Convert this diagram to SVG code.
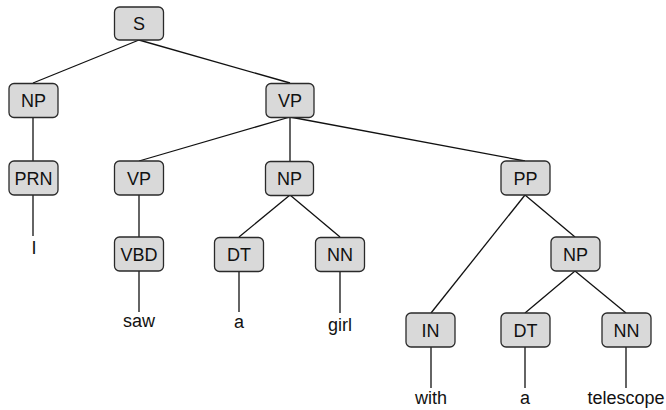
<svg xmlns="http://www.w3.org/2000/svg" width="666" height="410" viewBox="0 0 666 410">
<style>
.n rect{fill:#d9d9d9;stroke:#2a2a2a;stroke-width:1.3}
.n text{font-family:"Liberation Sans",Arial,sans-serif;font-size:18px;fill:#111;text-anchor:middle}
.w{font-family:"Liberation Sans",Arial,sans-serif;font-size:18px;fill:#111;text-anchor:middle}
#edges line{stroke:#111;stroke-width:1.3}
</style>
<rect width="666" height="410" fill="#fff"/>
<g id="edges">
<line x1="139" y1="40" x2="33" y2="83"/>
<line x1="139" y1="40" x2="290" y2="83"/>
<line x1="33" y1="117" x2="33" y2="161"/>
<line x1="290" y1="117" x2="139" y2="161"/>
<line x1="290" y1="117" x2="290" y2="161"/>
<line x1="290" y1="117" x2="525" y2="161"/>
<line x1="139" y1="195" x2="139" y2="237"/>
<line x1="290" y1="195" x2="239" y2="237"/>
<line x1="290" y1="195" x2="340" y2="237"/>
<line x1="525" y1="195" x2="431" y2="313"/>
<line x1="525" y1="195" x2="575" y2="237"/>
<line x1="575" y1="271" x2="525" y2="313"/>
<line x1="575" y1="271" x2="626" y2="313"/>
<line x1="33" y1="195" x2="33" y2="236"/>
<line x1="139" y1="271" x2="139" y2="312"/>
<line x1="239" y1="271" x2="239" y2="312"/>
<line x1="340" y1="271" x2="340" y2="313"/>
<line x1="431" y1="347" x2="431" y2="388"/>
<line x1="525" y1="347" x2="525" y2="388"/>
<line x1="626" y1="347" x2="626" y2="388"/>
</g>
<g id="S" class="n"><rect x="114.5" y="7" width="49" height="33" rx="5"/><text x="139" y="30">S</text></g>
<g id="NP1" class="n"><rect x="9" y="83.5" width="49" height="34" rx="5"/><text x="33.5" y="107">NP</text></g>
<g id="VP1" class="n"><rect x="266" y="83.5" width="48" height="34" rx="5"/><text x="290" y="107">VP</text></g>
<g id="PRN" class="n"><rect x="9" y="161" width="49" height="34" rx="5"/><text x="33.5" y="184.5">PRN</text></g>
<g id="VP2" class="n"><rect x="114.5" y="161" width="49" height="34" rx="5"/><text x="139" y="184.5">VP</text></g>
<g id="NP2" class="n"><rect x="265.5" y="161.5" width="48" height="34" rx="5"/><text x="289.5" y="185">NP</text></g>
<g id="PP" class="n"><rect x="501" y="161" width="49" height="34" rx="5"/><text x="525.5" y="184.5">PP</text></g>
<g id="VBD" class="n"><rect x="114.5" y="237" width="49" height="34" rx="5"/><text x="139" y="260.5">VBD</text></g>
<g id="DT1" class="n"><rect x="214.5" y="237.5" width="49" height="34" rx="5"/><text x="239" y="261">DT</text></g>
<g id="NN1" class="n"><rect x="315.5" y="237.5" width="49" height="34" rx="5"/><text x="340" y="261">NN</text></g>
<g id="NP3" class="n"><rect x="551" y="237" width="49" height="34" rx="5"/><text x="575.5" y="260.5">NP</text></g>
<g id="IN" class="n"><rect x="406" y="313" width="49" height="34" rx="5"/><text x="430.5" y="336.5">IN</text></g>
<g id="DT2" class="n"><rect x="501" y="313" width="49" height="34" rx="5"/><text x="525.5" y="336.5">DT</text></g>
<g id="NN2" class="n"><rect x="602" y="313" width="49" height="34" rx="5"/><text x="626.5" y="336.5">NN</text></g>
<g id="leaves">
<text class="w" x="34" y="254">I</text>
<text class="w" x="139" y="327">saw</text>
<text class="w" x="239" y="328">a</text>
<text class="w" x="340" y="331">girl</text>
<text class="w" x="431" y="404">with</text>
<text class="w" x="525" y="404">a</text>
<text class="w" x="626" y="404">telescope</text>
</g>
</svg>
